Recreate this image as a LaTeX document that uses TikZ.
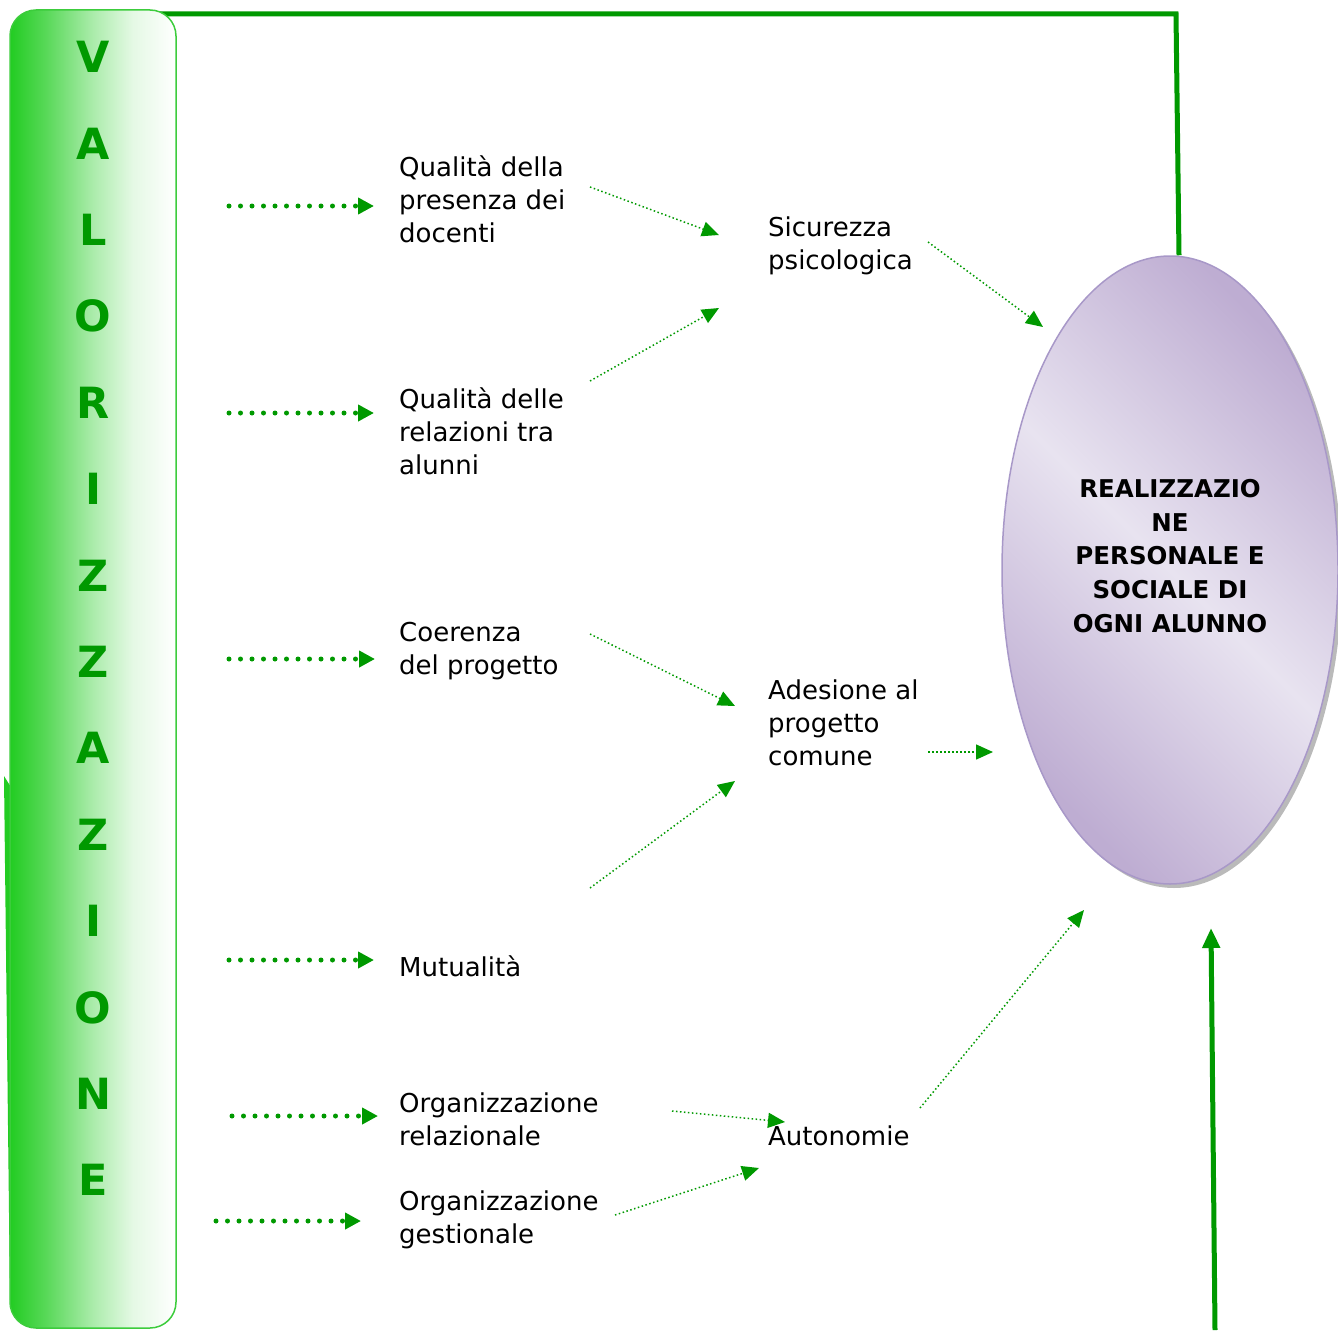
\documentclass[tikz,border=0pt]{standalone}
\usepackage{fontspec}
\setmainfont{DejaVu Sans}
\usetikzlibrary{arrows.meta, shapes.geometric, shadows}
\definecolor{arrowgreen}{HTML}{009900}
\definecolor{panelgreen}{HTML}{22CC22}
\definecolor{paneledge}{HTML}{3CCC3C}
\definecolor{lilacdark}{HTML}{BEADD2}
\definecolor{lilaclight}{HTML}{E8E3F0}
\definecolor{lilacedge}{HTML}{A898C8}
\pgfdeclarehorizontalshading{panelfade}{100bp}{color(0bp)=(panelgreen); color(25bp)=(panelgreen); color(36bp)=(panelgreen!75!white); color(50bp)=(panelgreen!38!white); color(62bp)=(panelgreen!12!white); color(75bp)=(white); color(100bp)=(white)}

\begin{document}
\begin{tikzpicture}[x=1pt, y=-1pt,
	panel/.style={rounded corners=26pt, draw=paneledge, line width=1.5pt, shading=panelfade, minimum width=166pt, minimum height=1318pt, inner sep=0pt},
	letter/.style={text=arrowgreen, font=\fontsize{43}{43}\selectfont\bfseries, inner sep=0pt},
	box/.style={anchor=north west, inner sep=0pt, align=left, font=\fontsize{26}{33}\selectfont},
	goal/.style={ellipse, minimum width=336pt, minimum height=628pt, inner sep=0pt, draw=lilacedge, line width=1.5pt,
		left color=lilacdark, right color=lilacdark, middle color=lilaclight, shading angle=-45,
		drop shadow={shadow xshift=4pt, shadow yshift=-4pt, opacity=0.45, fill=black!60}},
	goaltext/.style={align=center, inner sep=0pt, font=\fontsize{24.5}{33.8}\selectfont\bfseries},
	feed/.style={arrowgreen, line width=5pt, line cap=round, dash pattern=on 0pt off 11.5pt, -{Triangle[length=16pt,width=16pt]}},
	link/.style={arrowgreen, line width=1.5pt, dash pattern=on 1.5pt off 2.5pt, -{Triangle[length=17pt,width=15pt]}},
	frame/.style={arrowgreen, line width=5pt}]
\useasboundingbox (0,0) rectangle (1338,1330);

\node[goal] (goal) at (1170,570) {};
\node[goaltext] at ([yshift=14pt]goal.center) {REALIZZAZIO\\NE\\PERSONALE E\\SOCIALE DI\\OGNI ALUNNO};

\coordinate (corner) at (1176,14);
\coordinate (base) at (1215,1330);
\draw[frame] (150,14) -- (corner) -- ([xshift=9pt]goal.north);
\draw[frame, -{Triangle[length=20pt,width=17pt]}] (base) -- (1211,928);

\fill[panelgreen] (4,776) -- (14,792) -- (14,1300) -- (10,1300) -- cycle;
\node[panel] (panel) at (93,669) {};
\foreach \l [count=\i from 0] in {V,A,L,O,R,I,Z,Z,A,Z,I,O,N,E}
	\node[letter] (v\i) at (93,57+86.4*\i) {\l};

\node[box] (presenza) at (399,153) {\strut Qualità della\\presenza dei\\docenti};
\node[box] (relazioni) at (399,385) {\strut Qualità delle\\relazioni tra\\alunni};
\node[box] (coerenza) at (399,618) {\strut Coerenza\\del progetto};
\node[box] (mutualita) at (399,953) {\strut Mutualità};
\node[box] (orgrel) at (399,1089) {\strut Organizzazione\\relazionale};
\node[box] (orgges) at (399,1187) {\strut Organizzazione\\gestionale};
\node[box] (sicurezza) at (768,213) {\strut Sicurezza\\psicologica};
\node[box] (adesione) at (768,676) {\strut Adesione al\\progetto\\comune};
\node[box] (autonomie) at (768,1122) {\strut Autonomie};

\coordinate (in1) at (229,206);
\coordinate (in2) at (229,413);
\coordinate (in3) at (229,659);
\coordinate (in4) at (229,960);
\coordinate (in5) at (232,1116);
\coordinate (in6) at (216,1221);
\draw[feed, shorten >=25pt] (in1) -- (in1 -| presenza.west);
\draw[feed, shorten >=25pt] (in2) -- (in2 -| relazioni.west);
\draw[feed, shorten >=24pt] (in3) -- (in3 -| coerenza.west);
\draw[feed, shorten >=25pt] (in4) -- (in4 -| mutualita.west);
\draw[feed, shorten >=21pt] (in5) -- (in5 -| orgrel.west);
\draw[feed, shorten >=38pt] (in6) -- (in6 -| orgges.west);

\coordinate (pres out) at (590,187);
\coordinate (rel out) at (590,381);
\coordinate (sic in a) at (719,235);
\coordinate (sic in b) at (719,308);
\coordinate (sic out) at (928,242);
\coordinate (goal in a) at (1043,327);
\coordinate (coe out) at (590,634);
\coordinate (mut out) at (590,888);
\coordinate (ade in a) at (735,706);
\coordinate (ade in b) at (735,781);
\coordinate (ade out) at (928,752);
\coordinate (goal in b) at (993,752);
\coordinate (rel2 out) at (672,1111);
\coordinate (ges out) at (615,1215);
\coordinate (aut in a) at (785,1122);
\coordinate (aut in b) at (759,1168);
\coordinate (aut out) at (920,1108);
\coordinate (goal in c) at (1084,910);
\foreach \a/\b in {pres out/sic in a, rel out/sic in b, sic out/goal in a, coe out/ade in a, mut out/ade in b,
		ade out/goal in b, rel2 out/aut in a, ges out/aut in b, aut out/goal in c}
	\draw[link] (\a) -- (\b);
\end{tikzpicture}
\end{document}
